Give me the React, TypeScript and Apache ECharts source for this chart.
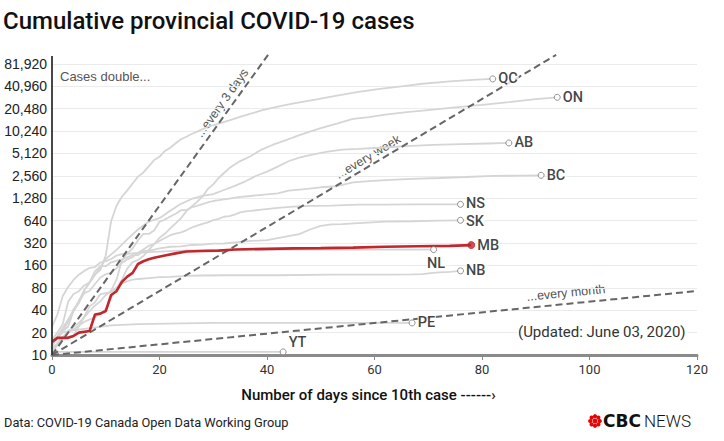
import React, { useEffect, useRef } from "react";
import * as echarts from "echarts";

// [day since 10th case, cumulative cases]
const QC: [number, number][] = [[0,13],[1,17],[2,21],[3,24],[4,39],[5,50],[6,74],[7,94],[8,121],[9,139],[10,219],[11,628],[12,1013],[13,1339],[14,1629],[15,2021],[16,2498],[17,2840],[18,3430],[19,4162],[20,4611],[21,5518],[22,6101],[23,6997],[24,7944],[25,8580],[26,9340],[27,10031],[29,11677],[31,12846],[33,14248],[35,15857],[37,17521],[39,19319],[42,21838],[45,24107],[49,27033],[53,30685],[57,34327],[61,37721],[65,40724],[69,44197],[74,47411],[79,50232],[82,51354]];
const ON: [number, number][] = [[0,15],[2,20],[4,22],[6,28],[8,32],[10,41],[11,59],[12,79],[13,103],[14,145],[15,177],[16,189],[17,214],[18,258],[19,308],[20,377],[21,425],[22,503],[23,588],[24,688],[25,858],[26,993],[27,1144],[28,1355],[29,1706],[30,1966],[31,2392],[32,2793],[33,3255],[34,3630],[35,4038],[36,4347],[37,4726],[39,5759],[41,6648],[43,7470],[45,8447],[47,9525],[50,11184],[53,12879],[56,14856],[59,15728],[62,16978],[66,18310],[70,19598],[75,21236],[80,22957],[85,25040],[90,27533],[94,29047]];
const AB: [number, number][] = [[0,14],[2,23],[4,39],[6,74],[8,119],[10,195],[12,259],[14,358],[16,486],[18,621],[20,690],[22,871],[24,1075],[26,1250],[28,1373],[30,1451],[32,1651],[34,1870],[36,2158],[38,2562],[40,2908],[42,3401],[44,4017],[46,4480],[48,4850],[51,5355],[54,5766],[57,5893],[61,6098],[66,6407],[71,6683],[76,6818],[81,6955],[85,7076]];
const BC: [number, number][] = [[0,12],[3,21],[5,27],[6,32],[7,39],[8,46],[9,53],[10,64],[11,73],[12,103],[13,186],[14,231],[15,271],[16,348],[17,424],[18,424],[19,472],[20,617],[21,659],[22,725],[23,792],[24,884],[25,884],[26,970],[27,1013],[28,1066],[29,1121],[30,1174],[31,1203],[33,1266],[35,1336],[37,1370],[40,1445],[42,1490],[44,1618],[47,1699],[50,1795],[53,1853],[56,2087],[59,2171],[63,2255],[67,2330],[72,2392],[77,2467],[82,2550],[87,2573],[91,2601]];
const NS: [number, number][] = [[0,14],[2,21],[3,28],[4,41],[5,51],[6,68],[7,73],[8,90],[9,110],[10,122],[11,127],[12,147],[13,173],[14,193],[15,207],[16,236],[17,262],[18,293],[19,310],[20,342],[21,373],[22,407],[23,428],[24,445],[25,474],[26,517],[27,549],[28,579],[29,606],[30,649],[31,675],[32,721],[33,737],[34,772],[35,827],[36,850],[37,865],[39,900],[42,947],[45,985],[48,1008],[52,1020],[57,1046],[62,1050],[67,1055],[76,1058]];
const SK: [number, number][] = [[0,16],[1,20],[2,26],[3,52],[4,66],[5,72],[6,86],[7,95],[8,134],[9,156],[10,156],[11,176],[12,184],[13,193],[14,206],[15,220],[16,220],[17,249],[18,253],[19,260],[20,271],[21,278],[22,285],[24,289],[26,301],[28,305],[30,313],[32,315],[34,326],[37,341],[40,349],[43,384],[46,421],[48,486],[50,544],[52,568],[54,573],[57,591],[62,620],[67,627],[72,641],[76,646]];
const NB: [number, number][] = [[0,11],[2,17],[4,18],[6,33],[7,45],[8,51],[9,66],[10,68],[11,70],[12,81],[13,91],[14,98],[15,103],[16,105],[18,108],[20,111],[22,112],[25,116],[28,117],[32,118],[42,118],[52,120],[62,120],[67,121],[69,122],[70,125],[72,129],[74,131],[76,135]];
const NL: [number, number][] = [[0,24],[1,35],[2,62],[3,82],[4,102],[5,120],[6,135],[7,148],[8,152],[9,175],[10,183],[11,195],[12,217],[13,226],[14,228],[15,232],[16,236],[18,241],[21,247],[24,252],[28,256],[38,258],[48,260],[71,261]];
const PE: [number, number][] = [[0,11],[3,21],[5,22],[11,25],[16,26],[30,27],[67,27]];
const YT: [number, number][] = [[0,11],[43,11]];
const MB: [number, number][] = [[0,15],[1,17],[3,17],[4,18],[5,20],[7,21],[8,35],[9,36],[10,39],[11,64],[12,72],[13,96],[14,113],[15,127],[16,167],[17,182],[18,193],[19,203],[21,217],[23,232],[25,246],[28,250],[31,253],[34,262],[40,267],[45,271],[50,273],[56,277],[62,285],[68,289],[74,293],[78,300]];

const grayProvinces: [string, [number, number][]][] = [
  ["QC", QC], ["ON", ON], ["AB", AB], ["BC", BC], ["NS", NS], ["SK", SK],
  ["NB", NB], ["NL", NL], ["PE", PE], ["YT", YT],
];

// doubling periods (days) of the reference lines, and where each one stops
const doublingDays = [3, 7, 42];
const doublingLabels = ["...every 3 days", "...every week", "...every month"];
const topDoublings = 13.4;
const lastDay = 120;

const baseCases = 10;
const yTickCount = 13;
const xTicks = [0, 20, 40, 60, 80, 100, 120];

const toY = (v: number) => Math.log2(v / baseCases);

const labelStyles: Record<string, any> = {
  NL: { position: "bottom", distance: 3, offset: [3, 0] },
  YT: { position: "right", distance: 2, offset: [0, -9] },
  NS: { position: "right", distance: 2, offset: [0, -1] },
  SK: { position: "right", distance: 2, offset: [0, 1.5] },
};

export default function App() {
  const ref = useRef<HTMLDivElement>(null);
  useEffect(() => {
    if (!ref.current) return;
    const chart = echarts.init(ref.current, null, { renderer: "svg" });

    const grayColor = "#d5d5d5";
    const red = "#c1272d";
    const series: any[] = [];

    grayProvinces.forEach(([name, pts]) => {
      series.push({
        type: "line",
        name,
        data: pts.map(([d, v]) => [d, toY(v)]),
        showSymbol: false,
        silent: true,
        z: 2,
        lineStyle: { color: grayColor, width: 1.8 },
      });
    });

    doublingDays.forEach((p) => {
      const endDay = Math.min(lastDay, topDoublings * p);
      series.push({
        type: "line",
        data: [[0, 0], [endDay, endDay / p]],
        showSymbol: false,
        silent: true,
        clip: false,
        z: 3,
        lineStyle: { color: "#666", width: 2, type: [7, 4] },
      });
    });

    series.push({
      type: "line",
      name: "MB",
      data: MB.map(([d, v]) => [d, toY(v)]),
      showSymbol: false,
      silent: true,
      z: 4,
      lineStyle: { color: red, width: 2.6 },
    });

    const endPoints = [...grayProvinces, ["MB", MB] as [string, [number, number][]]].map(([name, pts]) => {
      const [d, v] = pts[pts.length - 1];
      const isMB = name === "MB";
      const ls = labelStyles[name] || { position: "right", distance: 2 };
      return {
        name,
        value: [d, toY(v)],
        symbolSize: isMB ? 7 : 6,
        itemStyle: isMB
          ? { color: red, borderColor: red, borderWidth: 1 }
          : { color: "#fff", borderColor: "#777", borderWidth: 1 },
        label: { show: true, formatter: name, ...ls },
      };
    });

    series.push({
      type: "scatter",
      data: endPoints,
      silent: true,
      z: 5,
      label: {
        show: true,
        fontFamily: "Roboto",
        fontWeight: 500,
        fontSize: 14.5,
        lineHeight: 14,
        color: "#111",
        backgroundColor: "#fff",
        padding: [0, 1, 0, 0],
      },
    });

    const gem = [];
    const gx = 595, gy = 421;
    for (let i = 0; i < 8; i++) {
      const a = (i * Math.PI) / 4;
      gem.push({ type: "circle", shape: { cx: gx + Math.cos(a) * 4.8, cy: gy + Math.sin(a) * 4.8, r: 2.1 }, style: { fill: "#e60505" } });
    }
    gem.push({ type: "circle", shape: { cx: gx, cy: gy, r: 2.5 }, style: { fill: "#e60505" } });

    const pxPerDay = 645 / lastDay;
    const pxPerDoubling = 291.2 / yTickCount;
    const angle = (p: number) => Math.atan(pxPerDoubling / p / pxPerDay);

    chart.setOption({
      animation: false,
      backgroundColor: "#fff",
      grid: { left: 52, right: 27, top: 63.8, bottom: 86 },
      xAxis: {
        type: "value",
        min: 0,
        max: lastDay,
        interval: 20,
        name: "Number of days since 10th case ------\u203a",
        nameLocation: "middle",
        nameGap: 32,
        nameTextStyle: { fontFamily: "Roboto", fontSize: 15, fontWeight: 500, color: "#111", padding: [0, 12, 0, 0] },
        axisLine: { show: true, lineStyle: { color: "#8a8a8a", width: 3 } },
        axisTick: { show: true, length: 5, lineStyle: { color: "#8a8a8a", width: 1 } },
        axisLabel: {
          fontFamily: "Roboto", fontSize: 13, color: "#333", margin: 8,
          formatter: (v: number) => (xTicks.includes(v) ? String(v) : ""),
        },
        splitLine: { show: false },
      },
      yAxis: {
        type: "value",
        min: 0,
        max: yTickCount,
        interval: 1,
        axisLine: { show: false },
        axisTick: { show: false },
        axisLabel: {
          fontFamily: "'Liberation Sans', Arial, sans-serif",
          fontSize: 14,
          color: "#222",
          margin: 5,
          formatter: (v: number) => (baseCases * Math.pow(2, v)).toLocaleString("en-US"),
        },
        splitLine: { lineStyle: { color: "#ebebeb", width: 1 } },
      },
      series,
      graphic: [
        { type: "line", shape: { x1: 52, y1: 56, x2: 52, y2: 355 }, style: { stroke: "#333", lineWidth: 1.8 }, z: 10 },
        { type: "text", x: 3, y: 21, style: { text: "Cumulative provincial COVID-19 cases", fontFamily: "Roboto", fontWeight: 500, fontSize: 24, fill: "#111", verticalAlign: "middle" } },
        { type: "text", x: 60, y: 76, style: { text: "Cases double...", fontFamily: "'Liberation Sans', Arial", fontSize: 13, fill: "#555", verticalAlign: "middle" } },
        { type: "text", x: 222, y: 103, rotation: angle(3), style: { text: doublingLabels[0], fontFamily: "'Liberation Sans', Arial", fontSize: 12.5, fill: "#555", align: "center", verticalAlign: "middle" } },
        { type: "text", x: 368, y: 157, rotation: angle(7), style: { text: doublingLabels[1], fontFamily: "'Liberation Sans', Arial", fontSize: 12.5, fill: "#555", align: "center", verticalAlign: "middle" } },
        { type: "text", x: 566, y: 293, rotation: angle(42), style: { text: doublingLabels[2], fontFamily: "'Liberation Sans', Arial", fontSize: 12.5, fill: "#555", align: "center", verticalAlign: "middle" } },
        { type: "text", x: 517, y: 332, z: 20, style: { text: "(Updated: June 03, 2020)", fontFamily: "Roboto", fontSize: 15, fill: "#333", verticalAlign: "middle", backgroundColor: "#fff", padding: [0, 2, 0, 1] } },
        { type: "text", x: 4, y: 422, style: { text: "Data: COVID-19 Canada Open Data Working Group", fontFamily: "Roboto", fontSize: 12.8, fill: "#222", verticalAlign: "middle" } },
        { type: "group", children: gem },
        { type: "text", x: 603, y: 421, style: { text: "CBC", fontFamily: "'DejaVu Sans', Roboto", fontWeight: 900, fontSize: 17, fill: "#111", verticalAlign: "middle" } },
        { type: "text", x: 644, y: 421, style: { text: "NEWS", fontFamily: "Roboto", fontWeight: 300, fontSize: 17, fill: "#111", verticalAlign: "middle" } },
      ],
    });
    return () => chart.dispose();
  }, []);
  return <div ref={ref} style={{ position: "fixed", left: 0, top: 0, width: 724, height: 441 }} />;
}
